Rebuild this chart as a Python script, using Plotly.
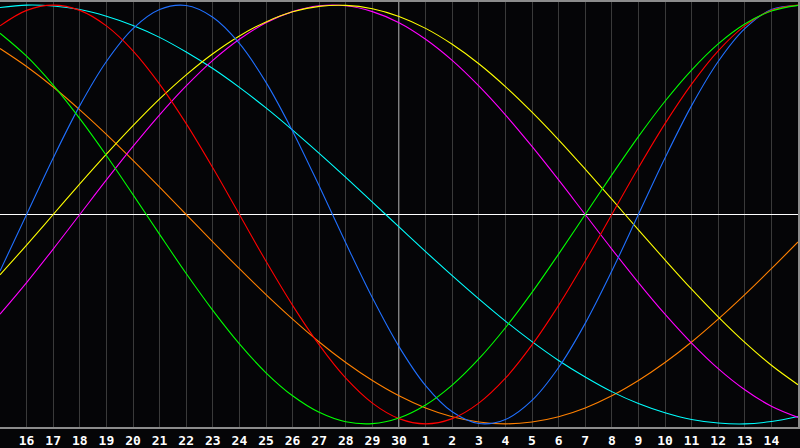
import plotly.graph_objects as go

# day index 0..30, day 15 of last month -> day 15 of this month
days = list(range(31))
tick_pos = list(range(1, 30))
tick_labels = ['16', '17', '18', '19', '20', '21', '22', '23', '24', '25', '26', '27', '28', '29', '30',
               '1', '2', '3', '4', '5', '6', '7', '8', '9', '10', '11', '12', '13', '14']

physical = [-0.270, 0.000, 0.270, 0.520, 0.731, 0.888, 0.979, 0.998, 0.942, 0.817, 0.631,
            0.398, 0.136, -0.136, -0.398, -0.631, -0.817, -0.942, -0.998, -0.979, -0.888,
            -0.731, -0.520, -0.270, 0.000, 0.270, 0.520, 0.731, 0.888, 0.979, 0.998]
emotional = [0.901, 0.975, 1.000, 0.975, 0.901, 0.782, 0.623, 0.434, 0.223, 0.000, -0.223,
             -0.434, -0.623, -0.782, -0.901, -0.975, -1.000, -0.975, -0.901, -0.782, -0.623,
             -0.434, -0.223, 0.000, 0.223, 0.434, 0.623, 0.782, 0.901, 0.975, 1.000]
intellectual = [0.866, 0.756, 0.618, 0.458, 0.282, 0.095, -0.095, -0.282, -0.458, -0.618, -0.756,
                -0.866, -0.945, -0.990, -0.999, -0.972, -0.910, -0.815, -0.690, -0.541, -0.372,
                -0.189, 0.000, 0.189, 0.372, 0.541, 0.690, 0.815, 0.910, 0.972, 0.999]
intuitive = [-0.476, -0.325, -0.165, 0.000, 0.165, 0.325, 0.476, 0.614, 0.736, 0.837, 0.916,
             0.969, 0.997, 0.997, 0.969, 0.916, 0.837, 0.736, 0.614, 0.476, 0.325,
             0.165, 0.000, -0.165, -0.325, -0.476, -0.614, -0.736, -0.837, -0.916, -0.969]
aesthetic = [-0.288, -0.146, 0.000, 0.146, 0.288, 0.424, 0.552, 0.667, 0.768, 0.853, 0.920,
             0.968, 0.994, 0.999, 0.983, 0.946, 0.889, 0.813, 0.720, 0.611, 0.489,
             0.357, 0.217, 0.073, -0.073, -0.217, -0.357, -0.489, -0.611, -0.720, -0.813]
awareness = [0.793, 0.707, 0.609, 0.500, 0.383, 0.259, 0.131, 0.000, -0.131, -0.259, -0.383,
             -0.500, -0.609, -0.707, -0.793, -0.866, -0.924, -0.966, -0.991, -1.000, -0.991,
             -0.966, -0.924, -0.866, -0.793, -0.707, -0.609, -0.500, -0.383, -0.259, -0.131]
spiritual = [0.989, 1.000, 0.996, 0.979, 0.947, 0.903, 0.846, 0.776, 0.697, 0.607, 0.509,
             0.403, 0.292, 0.177, 0.059, -0.059, -0.177, -0.292, -0.403, -0.509, -0.607,
             -0.697, -0.776, -0.846, -0.903, -0.947, -0.979, -0.996, -1.000, -0.989, -0.965]

series = [
    ('Awareness', awareness, '#ff8000'),
    ('Spiritual', spiritual, '#00ffff'),
    ('Intuitive', intuitive, '#ff00ff'),
    ('Aesthetic', aesthetic, '#ffff00'),
    ('Physical', physical, '#2070ff'),
    ('Emotional', emotional, '#ff0000'),
    ('Intellectual', intellectual, '#00ff00'),
]

fig = go.Figure()
for name, vals, col in series:
    fig.add_trace(go.Scatter(x=days, y=vals, name=name, mode='lines',
                             line=dict(color=col, width=1.1, shape='spline'),
                             hoverinfo='skip'))

# today marker
fig.add_shape(type='line', x0=15, x1=15, y0=0, y1=1, yref='paper',
              line=dict(color='white', width=1), layer='below')

fig.update_xaxes(range=[0, 30], tickvals=tick_pos, ticktext=tick_labels,
                 showgrid=True, gridcolor='#3a3a3a', gridwidth=1,
                 showline=True, linecolor='#8c8c8c', linewidth=2, mirror=True,
                 ticks='', zeroline=False,
                 tickfont=dict(family='DejaVu Sans Mono', size=13, color='white', weight='bold'))
fig.update_yaxes(range=[-1.015, 1.015], showgrid=False, showticklabels=False,
                 zeroline=True, zerolinecolor='white', zerolinewidth=1,
                 showline=True, linecolor='#8c8c8c', linewidth=2, mirror=True, ticks='')

fig.update_layout(width=800, height=448, showlegend=False,
                  margin=dict(l=0, r=0, t=0, b=20),
                  paper_bgcolor='#050507', plot_bgcolor='#050507')

# page body has an 8px default margin; drop it so the chart fills the window
fig.write_html("out.html", config={'displayModeBar': False},
               post_script="document.body.style.margin='0';")
